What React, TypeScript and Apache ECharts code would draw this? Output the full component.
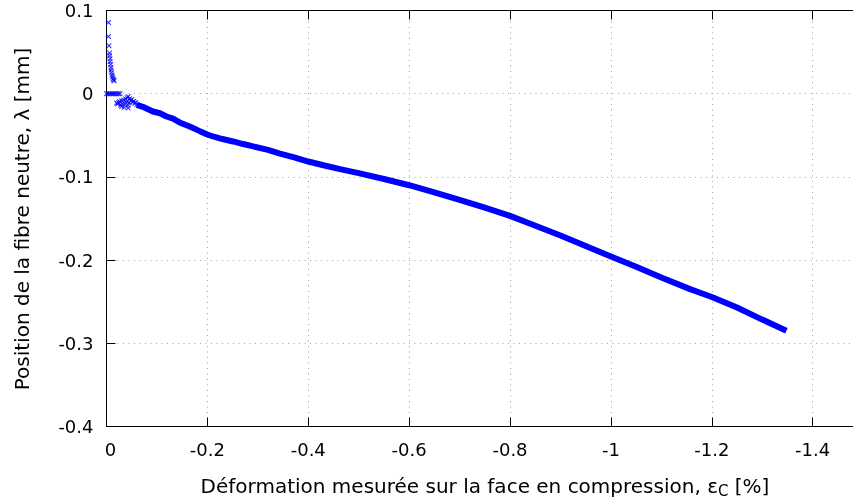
import React, { useEffect, useRef } from 'react';
import * as echarts from 'echarts';

// Tick values of the horizontal axis (strain, %)
const xTicks = [0, -0.2, -0.4, -0.6, -0.8, -1, -1.2, -1.4];

// Main (dense) part of the measured curve
const mainStrain = [
  -0.060, -0.075, -0.092, -0.106, -0.119, -0.132, -0.145, -0.165, -0.185, -0.200,
  -0.211, -0.230, -0.251, -0.271, -0.291, -0.320, -0.344, -0.372, -0.400, -0.430,
  -0.463, -0.500, -0.550, -0.600, -0.650, -0.700, -0.750, -0.800, -0.839, -0.900,
  -0.950, -1.000, -1.050, -1.100, -1.157, -1.200, -1.250, -1.300, -1.348,
];
const mainLambda = [
  -0.0135, -0.0165, -0.0214, -0.0235, -0.0274, -0.0300, -0.0345, -0.0395, -0.0450, -0.0490,
  -0.0514, -0.0545, -0.0574, -0.0605, -0.0634, -0.0675, -0.0720, -0.0765, -0.0815, -0.0860,
  -0.0906, -0.0955, -0.1025, -0.1100, -0.1185, -0.1275, -0.1370, -0.1468, -0.1560, -0.1705,
  -0.1830, -0.1957, -0.2080, -0.2210, -0.2349, -0.2443, -0.2570, -0.2715, -0.2850,
];

// Sparse early points (start of the test)
const earlyStrain = [
  -0.004, -0.004, -0.005, -0.006, -0.006, -0.007, -0.007, -0.008, -0.009, -0.009,
  -0.010, -0.011, -0.012, -0.013, -0.014, -0.015,
  0, -0.003, -0.006, -0.009, -0.012, -0.015, -0.018, -0.021, -0.024, -0.027,
  -0.020, -0.022, -0.024, -0.026, -0.028, -0.030, -0.030, -0.032, -0.034, -0.035,
  -0.037, -0.038, -0.040, -0.041, -0.043, -0.043, -0.043, -0.045, -0.046, -0.048,
  -0.050, -0.052, -0.054, -0.056, -0.058, -0.060,
];
const earlyLambda = [
  0.0856, 0.0688, 0.0576, 0.0488, 0.0455, 0.0420, 0.0385, 0.0350, 0.0315, 0.0285,
  0.0255, 0.0225, 0.0200, 0.0180, 0.0165, 0.0155,
  0, 0, 0, 0, 0, 0, 0, 0, 0, 0,
  -0.0113, -0.0125, -0.0105, -0.0095, -0.0140, -0.0154, -0.0085, -0.0120, -0.0075, -0.0165,
  -0.0125, -0.0065, -0.0095, -0.0050, -0.0173, -0.0140, -0.0035, -0.0110, -0.0060, -0.0085,
  -0.0070, -0.0100, -0.0090, -0.0115, -0.0105, -0.0130,
];

const X_TITLE = 'Déformation mesurée sur la face en compression, ε{sub|C} [%]';
const Y_TITLE = 'Position de la fibre neutre, λ [mm]';

const FONT = 'DejaVu Sans';
const BLUE = '#0000ff';
const CROSS =
  'path://M0,0L1.5,0L5,3.5L8.5,0L10,0L10,1.5L6.5,5L10,8.5L10,10L8.5,10L5,6.5L1.5,10L0,10L0,8.5L3.5,5L0,1.5Z';

export default function App() {
  const ref = useRef<HTMLDivElement>(null);

  useEffect(() => {
    const chart = echarts.init(ref.current as HTMLDivElement, null, { renderer: 'svg' });
    const line = { color: '#000', width: 1 };
    const grid = { show: true, lineStyle: { color: '#a0a0a0', width: 1, type: [1, 4.5] } };

    chart.setOption({
      animation: false,
      grid: { left: 106.5, top: 10.5, right: 0, bottom: 75.5, containLabel: false },
      xAxis: [
        {
          type: 'value',
          inverse: true,
          min: -1.48,
          max: 0,
          position: 'bottom',
          axisLine: { show: true, onZero: false, lineStyle: line },
          axisTick: { show: true, inside: true, length: 9, customValues: xTicks, lineStyle: line },
          axisLabel: {
            customValues: xTicks,
            margin: 14,
            color: '#000',
            fontSize: 18,
            fontFamily: FONT,
            formatter: (v: number) => (v === 0 ? '{z|0}' : String(v)),
            rich: { z: { fontSize: 18, fontFamily: FONT, color: '#000', padding: [0, 0, 0, 8] } },
          },
          splitLine: grid,
        },
        {
          type: 'value',
          inverse: true,
          min: -1.48,
          max: 0,
          position: 'top',
          axisLine: { show: true, onZero: false, lineStyle: line },
          axisTick: { show: true, inside: true, length: 9, customValues: xTicks, lineStyle: line },
          axisLabel: { show: false },
          splitLine: { show: false },
        },
      ],
      yAxis: [
        {
          type: 'value',
          min: -0.4,
          max: 0.1,
          interval: 0.1,
          axisLine: { show: true, onZero: false, lineStyle: line },
          axisTick: { show: true, inside: true, length: 9, lineStyle: line },
          axisLabel: { margin: 13, color: '#000', fontSize: 18, fontFamily: FONT },
          splitLine: grid,
        },
      ],
      series: [
        {
          type: 'line',
          data: mainStrain.map((x, i) => [x, mainLambda[i]]),
          showSymbol: false,
          symbol: 'none',
          lineStyle: { color: BLUE, width: 6 },
          z: 3,
        },
        {
          type: 'scatter',
          data: earlyStrain.map((x, i) => [x, earlyLambda[i]]),
          symbol: CROSS,
          symbolSize: 5,
          itemStyle: { color: BLUE },
          z: 4,
        },
      ],
      graphic: [
        {
          type: 'text',
          x: 485,
          y: 486,
          style: {
            text: X_TITLE,
            fill: '#000',
            fontSize: 20,
            fontFamily: FONT,
            lineHeight: 24,
            align: 'center',
            verticalAlign: 'middle',
            rich: {
              sub: { fontSize: 15, fontFamily: FONT, fill: '#000', lineHeight: 7, verticalAlign: 'bottom' },
            },
          },
        },
        {
          type: 'text',
          x: 22,
          y: 219,
          rotation: Math.PI / 2,
          style: {
            text: Y_TITLE,
            fill: '#000',
            fontSize: 20,
            fontFamily: FONT,
            align: 'center',
            verticalAlign: 'middle',
          },
        },
      ],
    });

    return () => chart.dispose();
  }, []);

  return <div ref={ref} style={{ position: 'fixed', left: 0, top: 0, width: 853, height: 502 }} />;
}
